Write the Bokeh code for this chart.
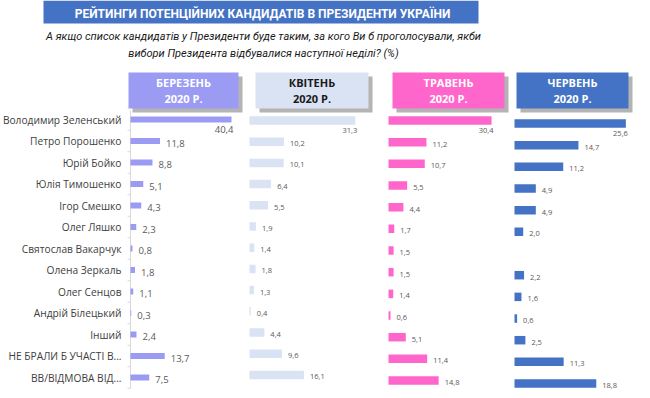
import math
from bokeh.plotting import figure
from bokeh.models import Range1d, ColumnDataSource
from bokeh.core.properties import value
from bokeh.embed import file_html
from bokeh.resources import INLINE

title = "РЕЙТИНГИ ПОТЕНЦІЙНИХ КАНДИДАТІВ В ПРЕЗИДЕНТИ УКРАЇНИ"
subtitle = ["А якщо список кандидатів у Президенти буде таким, за кого Ви б проголосували, якби",
            "вибори Президента відбувалися наступної неділі? (%)"]

candidates = ["Володимир Зеленський", "Петро Порошенко", "Юрій Бойко", "Юлія Тимошенко",
              "Ігор Смешко", "Олег Ляшко", "Святослав Вакарчук", "Олена Зеркаль",
              "Олег Сенцов", "Андрій Білецький", "Інший", "НЕ БРАЛИ Б УЧАСТІ В...",
              "ВВ/ВІДМОВА ВІД..."]

months = ["БЕРЕЗЕНЬ", "КВІТЕНЬ", "ТРАВЕНЬ", "ЧЕРВЕНЬ"]
year_label = "2020 Р."

march = [40.4, 11.8, 8.8, 5.1, 4.3, 2.3, 0.8, 1.8, 1.1, 0.3, 2.4, 13.7, 7.5]
april = [31.3, 10.2, 10.1, 6.4, 5.5, 1.9, 1.4, 1.8, 1.3, 0.4, 4.4, 9.6, 16.1]
may = [30.4, 11.2, 10.7, 5.5, 4.4, 1.7, 1.5, 1.5, 1.4, 0.6, 5.1, 11.4, 14.8]
june = [25.6, 14.7, 11.2, 4.9, 4.9, 2.0, float("nan"), 2.2, 1.6, 0.6, 2.5, 11.3, 18.8]

series = [march, april, may, june]
bar_colors = ["#9b9bf3", "#dae3f3", "#ff66cc", "#4472c4"]
head_text_colors = ["white", "#1a1a1a", "white", "white"]

# layout (page pixel coordinates)
W, H = 642, 390
cols = [
    dict(x0=130, sx=2.5, y0=119, sy=21.5, bh=6, fs="9.5px", hl=128, hr=238),
    dict(x0=249, sx=3.38, y0=120, sy=21.2, bh=8.5, fs="7.5px", hl=255, hr=368),
    dict(x0=388, sx=3.39, y0=120, sy=21.67, bh=8.5, fs="7.5px", hl=392, hr=504),
    dict(x0=514, sx=4.35, y0=123, sy=21.67, bh=8.5, fs="7.5px", hl=516, hr=628),
]

p = figure(width=W, height=H, output_backend="svg", toolbar_location=None,
           x_range=Range1d(0, W), y_range=Range1d(H, 0),
           min_border=0, outline_line_color=None, background_fill_color="white")
p.axis.visible = False
p.grid.visible = False

# title band
p.quad(left=[43], right=[478], top=[0], bottom=[23], color="#4472c4", line_color=None)
p.text(x=[262], y=[13], text=[title], text_font=value("Roboto"), text_font_style="bold",
       text_font_size="12px", text_color="white", text_align="center", text_baseline="middle")
p.text(x=[263, 263], y=[36, 53], text=subtitle, text_font=value("Roboto"),
       text_font_style="italic", text_font_size="11px", text_color="#1a1a1a",
       text_align="center", text_baseline="middle")

# headers
for k, c in enumerate(cols):
    p.quad(left=[c["hl"] + 4], right=[c["hr"] + 4], top=[76], bottom=[112],
           color="#b4b4b4", line_color=None)
    p.quad(left=[c["hl"]], right=[c["hr"]], top=[72], bottom=[108],
           color=bar_colors[k], line_color=None)
    cx = (c["hl"] + c["hr"]) / 2
    p.text(x=[cx, cx], y=[82, 98], text=[months[k], year_label], text_font=value("Open Sans"),
           text_font_style="bold", text_font_size="11px", text_color=head_text_colors[k],
           text_align="center", text_baseline="middle")

# axis line of first panel
p.segment(x0=[130], y0=[110], x1=[130], y1=[388], line_color="#d9d9d9", line_width=1)
ticks_y = [cols[0]["y0"] + (i - 0.5) * cols[0]["sy"] for i in range(len(candidates) + 1)]
p.segment(x0=[127] * len(ticks_y), y0=ticks_y, x1=[130] * len(ticks_y), y1=ticks_y,
          line_color="#d9d9d9", line_width=1)

# candidate names
name_y = [cols[0]["y0"] + i * cols[0]["sy"] for i in range(len(candidates))]
p.text(x=[121] * len(candidates), y=name_y, text=candidates, text_font=value("Open Sans"),
       text_font_size="10.2px", text_color="#404040", text_align="right",
       text_baseline="middle")

# bars per month, each with its own scale
for k, (vals, c) in enumerate(zip(series, cols)):
    xr = f"x{k}"
    yr = f"y{k}"
    p.extra_x_ranges[xr] = Range1d((0 - c["x0"]) / c["sx"], (W - c["x0"]) / c["sx"])
    p.extra_y_ranges[yr] = Range1d((H - c["y0"]) / c["sy"], (0 - c["y0"]) / c["sy"])
    rows = list(range(len(vals)))
    good = [i for i in rows if not math.isnan(vals[i])]
    src = ColumnDataSource(dict(y=[i for i in good], v=[vals[i] for i in good]))
    p.hbar(y="y", left=0, right="v", height=c["bh"] / c["sy"], source=src,
           color=bar_colors[k], line_color=None, x_range_name=xr, y_range_name=yr)
    imax = max(good, key=lambda i: vals[i])
    lab = [i for i in good if i != imax]
    p.text(x=[vals[i] for i in lab], y=[i for i in lab],
           text=[f"{vals[i]:.1f}".replace(".", ",") for i in lab],
           x_offset=6, y_offset=2, text_font=value("Open Sans"), text_font_size=c["fs"],
           text_color="#595959", text_align="left", text_baseline="middle",
           x_range_name=xr, y_range_name=yr)
    p.text(x=[vals[imax]], y=[imax], text=[f"{vals[imax]:.1f}".replace(".", ",")],
           x_offset=2, y_offset=10, text_font=value("Open Sans"), text_font_size=c["fs"],
           text_color="#595959", text_align="right", text_baseline="middle",
           x_range_name=xr, y_range_name=yr)

open("out.html", "w").write(file_html(p, INLINE))
